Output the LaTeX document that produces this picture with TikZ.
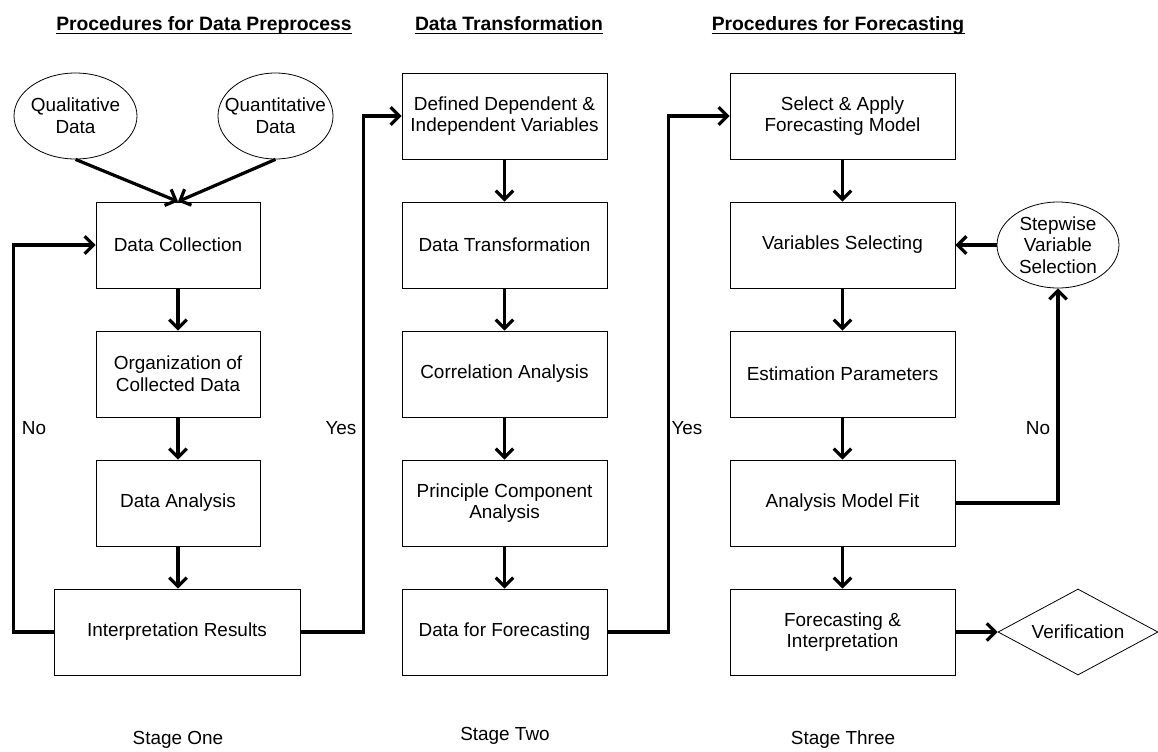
\documentclass[tikz,border=0pt]{standalone}
\usepackage{fontspec}
\setmainfont{Liberation Sans}
\usetikzlibrary{arrows.meta,shapes.geometric}
\begin{document}
\begin{tikzpicture}[x=0.75pt,y=-0.75pt,
  font=\fontsize{14.2}{16.3}\selectfont,
  box/.style={draw, line width=0.7pt, minimum height=64.5pt, align=center, inner sep=0pt},
  c1/.style={box, minimum width=123pt},
  c2/.style={box, minimum width=153.75pt},
  c3/.style={box, minimum width=168.75pt},
  oval/.style={draw, ellipse, line width=0.6pt, minimum height=64.5pt, inner sep=0pt},
  conn/.style={line width=2.4pt, -{Straight Barb[length=6.5pt,width=13pt]}},
  ttl/.style={font=\fontsize{14.5}{16}\selectfont\bfseries, anchor=base, inner sep=0pt},
  stg/.style={anchor=base, inner sep=0pt},
  lbl/.style={inner sep=0pt}]
\useasboundingbox (0,0) rectangle (1158,751);

% titles
\node[ttl] (t1) at (204,30) {Procedures for Data Preprocess};
\node[ttl] (t2) at (509,30) {Data Transformation};
\node[ttl] (t3) at (838,30) {Procedures for Forecasting};
\foreach \t in {t1,t2,t3}
  \draw[line width=1.1pt] ([yshift=-2.6pt]\t.base west) -- ([yshift=-2.6pt]\t.base east);

% stage one
\node[oval, minimum width=92.25pt, label={[align=center]center:{Qualitative\\Data}}] (qual) at (75.5,116) {};
\node[oval, minimum width=86.25pt, label={[align=center]center:{Quantitative\\Data}}] (quan) at (275.5,116) {};
\node[c1] (dc) at (178,245) {Data Collection};
\node[c1] (org) at (178,374) {Organization of\\Collected Data};
\node[c1] (da) at (178,503) {Data Analysis};
\node[box, minimum width=184.5pt] (ir) at (177,632) {Interpretation Results};

% stage two
\node[c2] (ddi) at (504.5,116) {Defined Dependent \&\\Independent Variables};
\node[c2] (dt) at (504.5,245) {Data Transformation};
\node[c2] (ca) at (504.5,374) {Correlation Analysis};
\node[c2] (pca) at (504.5,503) {Principle Component\\Analysis};
\node[c2] (dff) at (504.5,632) {Data for Forecasting};

% stage three
\node[c3] (sel) at (842.5,116) {Select \& Apply\\Forecasting Model};
\node[c3] (vs) at (842.5,245) {Variables Selecting};
\node[c3] (ep) at (842.5,374) {Estimation Parameters};
\node[c3] (amf) at (842.5,503) {Analysis Model Fit};
\node[c3] (fi) at (842.5,632) {Forecasting \&\\Interpretation};
\node[oval, minimum width=91.5pt, label={[align=center]center:{Stepwise\\Variable\\Selection}}] (sws) at (1058,245) {};
\node[draw, diamond, line width=0.6pt, shape aspect=1.86, minimum width=120pt, minimum height=64.5pt, inner sep=1pt] (ver) at (1078,632) {Verification};

% stage labels
\node[stg] (s1) at (178,744) {Stage One};
\node[stg] (s2) at (505,740) {Stage Two};
\node[stg] (s3) at (843,744) {Stage Three};

% yes / no labels
\node[lbl] (no1) at (34,428) {No};
\node[lbl] (yes1) at (341,428) {Yes};
\node[lbl] (yes2) at (687,428) {Yes};
\node[lbl] (no2) at (1038,428) {No};

% connectors stage one
\draw[conn] (qual.south) -- (dc.north);
\draw[conn] (quan.south) -- (dc.north);
\draw[conn] (dc.south) -- (org.north);
\draw[conn] (org.south) -- (da.north);
\draw[conn] (da.south) -- (da.south |- ir.north);
\draw[conn] (ir.west) -- ++(-40,0) |- (dc.west);
\draw[conn] (ir.east) -- ++(63,0) |- (ddi.west);

% connectors stage two
\draw[conn] (ddi.south) -- (dt.north);
\draw[conn] (dt.south) -- (ca.north);
\draw[conn] (ca.south) -- (pca.north);
\draw[conn] (pca.south) -- (dff.north);
\draw[conn] (dff.east) -- ++(61,0) |- (sel.west);

% connectors stage three
\draw[conn] (sel.south) -- (vs.north);
\draw[conn] (vs.south) -- (ep.north);
\draw[conn] (ep.south) -- (amf.north);
\draw[conn] (amf.south) -- (fi.north);
\draw[conn] (amf.east) -| (sws.south);
\draw[conn] (sws.west) -- (vs.east);
\draw[conn] (fi.east) -- (ver.west);
\end{tikzpicture}
\end{document}
